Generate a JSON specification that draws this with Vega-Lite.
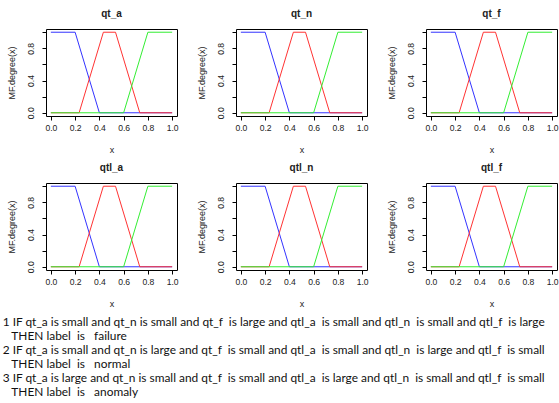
{
  "$schema": "https://vega.github.io/schema/vega-lite/v6.json",
  "background": "white",
  "padding": {"left": 2, "top": 8, "right": 0, "bottom": 0},
  "config": {
    "font": "Liberation Sans",
    "view": {"stroke": "black", "strokeWidth": 1},
    "axis": {
      "domain": false,
      "grid": false,
      "tickColor": "black",
      "tickSize": 4,
      "labelColor": "#222",
      "labelFontSize": 8.6,
      "titleFontSize": 9,
      "titleFontWeight": "normal",
      "titleColor": "#222",
      "labelFont": "Liberation Sans",
      "titleFont": "Liberation Sans"
    },
    "title": {"fontSize": 10, "fontWeight": "bold", "font": "Liberation Sans", "color": "#222", "offset": 10},
    "line": {"strokeWidth": 1}
  },
  "datasets": {
    "mf": [
      {"set": "small", "x": 0, "degree": 1},
      {"set": "small", "x": 0.2, "degree": 1},
      {"set": "small", "x": 0.4, "degree": 0},
      {"set": "small", "x": 1, "degree": 0},
      {"set": "medium", "x": 0, "degree": 0},
      {"set": "medium", "x": 0.233, "degree": 0},
      {"set": "medium", "x": 0.433, "degree": 1},
      {"set": "medium", "x": 0.533, "degree": 1},
      {"set": "medium", "x": 0.733, "degree": 0},
      {"set": "medium", "x": 1, "degree": 0},
      {"set": "large", "x": 0, "degree": 0},
      {"set": "large", "x": 0.6, "degree": 0},
      {"set": "large", "x": 0.8, "degree": 1},
      {"set": "large", "x": 1, "degree": 1}
    ],
    "rules": [
      {"line": 1, "text": "1 IF qt_a is small and qt_n is small and qt_f\u00a0 is large and qtl_a\u00a0 is small and qtl_n\u00a0 is small and qtl_f\u00a0 is large"},
      {"line": 2, "text": "\u200b\u2002\u00a0THEN label\u00a0 is\u00a0\u00a0 failure"},
      {"line": 3, "text": "2 IF qt_a is small and qt_n is large and qt_f\u00a0 is small and qtl_a\u00a0 is small and qtl_n\u00a0 is large and qtl_f\u00a0 is small"},
      {"line": 4, "text": "\u200b\u2002\u00a0THEN label\u00a0 is\u00a0\u00a0 normal"},
      {"line": 5, "text": "3 IF qt_a is large and qt_n is small and qt_f\u00a0 is small and qtl_a\u00a0 is large and qtl_n\u00a0 is small and qtl_f\u00a0 is small"},
      {"line": 6, "text": "\u200b\u2002\u00a0THEN label\u00a0 is\u00a0\u00a0 anomaly"}
    ]
  },
  "spacing": 6,
  "vconcat": [
    {
      "columns": 3,
      "bounds": "flush",
      "spacing": {"row": 67, "column": 59},
      "concat": [
        {"title": "qt_a", "width": 131, "height": 87, "data": {"name": "mf"}, "mark": {"type": "line"},
         "encoding": {
           "x": {"field": "x", "type": "quantitative", "scale": {"domain": [-0.04, 1.04], "nice": false, "zero": false}, "axis": {"values": [0, 0.2, 0.4, 0.6, 0.8, 1], "format": ".1f", "title": "x", "labelPadding": 3, "titlePadding": 14}},
           "y": {"field": "degree", "type": "quantitative", "scale": {"domain": [-0.04, 1.04], "nice": false}, "axis": {"values": [0, 0.2, 0.4, 0.6, 0.8, 1], "labelExpr": "round(datum.value*10)%4==0 ? format(datum.value,'.1f') : ''", "labelAngle": 270, "labelAlign": "center", "labelBaseline": "bottom", "labelPadding": 6.7, "title": "MF.degree(x)", "titlePadding": 9.5}},
           "color": {"field": "set", "type": "nominal", "scale": {"domain": ["small", "medium", "large"], "range": ["#3333ff", "#ff3333", "#33ee33"]}, "legend": null}
         }},
        {"title": "qt_n", "width": 131, "height": 87, "data": {"name": "mf"}, "mark": {"type": "line"},
         "encoding": {
           "x": {"field": "x", "type": "quantitative", "scale": {"domain": [-0.04, 1.04], "nice": false, "zero": false}, "axis": {"values": [0, 0.2, 0.4, 0.6, 0.8, 1], "format": ".1f", "title": "x", "labelPadding": 3, "titlePadding": 14}},
           "y": {"field": "degree", "type": "quantitative", "scale": {"domain": [-0.04, 1.04], "nice": false}, "axis": {"values": [0, 0.2, 0.4, 0.6, 0.8, 1], "labelExpr": "round(datum.value*10)%4==0 ? format(datum.value,'.1f') : ''", "labelAngle": 270, "labelAlign": "center", "labelBaseline": "bottom", "labelPadding": 6.7, "title": "MF.degree(x)", "titlePadding": 9.5}},
           "color": {"field": "set", "type": "nominal", "scale": {"domain": ["small", "medium", "large"], "range": ["#3333ff", "#ff3333", "#33ee33"]}, "legend": null}
         }},
        {"title": "qt_f", "width": 131, "height": 87, "data": {"name": "mf"}, "mark": {"type": "line"},
         "encoding": {
           "x": {"field": "x", "type": "quantitative", "scale": {"domain": [-0.04, 1.04], "nice": false, "zero": false}, "axis": {"values": [0, 0.2, 0.4, 0.6, 0.8, 1], "format": ".1f", "title": "x", "labelPadding": 3, "titlePadding": 14}},
           "y": {"field": "degree", "type": "quantitative", "scale": {"domain": [-0.04, 1.04], "nice": false}, "axis": {"values": [0, 0.2, 0.4, 0.6, 0.8, 1], "labelExpr": "round(datum.value*10)%4==0 ? format(datum.value,'.1f') : ''", "labelAngle": 270, "labelAlign": "center", "labelBaseline": "bottom", "labelPadding": 6.7, "title": "MF.degree(x)", "titlePadding": 9.5}},
           "color": {"field": "set", "type": "nominal", "scale": {"domain": ["small", "medium", "large"], "range": ["#3333ff", "#ff3333", "#33ee33"]}, "legend": null}
         }},
        {"title": "qtl_a", "width": 131, "height": 87, "data": {"name": "mf"}, "mark": {"type": "line"},
         "encoding": {
           "x": {"field": "x", "type": "quantitative", "scale": {"domain": [-0.04, 1.04], "nice": false, "zero": false}, "axis": {"values": [0, 0.2, 0.4, 0.6, 0.8, 1], "format": ".1f", "title": "x", "labelPadding": 3, "titlePadding": 14}},
           "y": {"field": "degree", "type": "quantitative", "scale": {"domain": [-0.04, 1.04], "nice": false}, "axis": {"values": [0, 0.2, 0.4, 0.6, 0.8, 1], "labelExpr": "round(datum.value*10)%4==0 ? format(datum.value,'.1f') : ''", "labelAngle": 270, "labelAlign": "center", "labelBaseline": "bottom", "labelPadding": 6.7, "title": "MF.degree(x)", "titlePadding": 9.5}},
           "color": {"field": "set", "type": "nominal", "scale": {"domain": ["small", "medium", "large"], "range": ["#3333ff", "#ff3333", "#33ee33"]}, "legend": null}
         }},
        {"title": "qtl_n", "width": 131, "height": 87, "data": {"name": "mf"}, "mark": {"type": "line"},
         "encoding": {
           "x": {"field": "x", "type": "quantitative", "scale": {"domain": [-0.04, 1.04], "nice": false, "zero": false}, "axis": {"values": [0, 0.2, 0.4, 0.6, 0.8, 1], "format": ".1f", "title": "x", "labelPadding": 3, "titlePadding": 14}},
           "y": {"field": "degree", "type": "quantitative", "scale": {"domain": [-0.04, 1.04], "nice": false}, "axis": {"values": [0, 0.2, 0.4, 0.6, 0.8, 1], "labelExpr": "round(datum.value*10)%4==0 ? format(datum.value,'.1f') : ''", "labelAngle": 270, "labelAlign": "center", "labelBaseline": "bottom", "labelPadding": 6.7, "title": "MF.degree(x)", "titlePadding": 9.5}},
           "color": {"field": "set", "type": "nominal", "scale": {"domain": ["small", "medium", "large"], "range": ["#3333ff", "#ff3333", "#33ee33"]}, "legend": null}
         }},
        {"title": "qtl_f", "width": 131, "height": 87, "data": {"name": "mf"}, "mark": {"type": "line"},
         "encoding": {
           "x": {"field": "x", "type": "quantitative", "scale": {"domain": [-0.04, 1.04], "nice": false, "zero": false}, "axis": {"values": [0, 0.2, 0.4, 0.6, 0.8, 1], "format": ".1f", "title": "x", "labelPadding": 3, "titlePadding": 14}},
           "y": {"field": "degree", "type": "quantitative", "scale": {"domain": [-0.04, 1.04], "nice": false}, "axis": {"values": [0, 0.2, 0.4, 0.6, 0.8, 1], "labelExpr": "round(datum.value*10)%4==0 ? format(datum.value,'.1f') : ''", "labelAngle": 270, "labelAlign": "center", "labelBaseline": "bottom", "labelPadding": 6.7, "title": "MF.degree(x)", "titlePadding": 9.5}},
           "color": {"field": "set", "type": "nominal", "scale": {"domain": ["small", "medium", "large"], "range": ["#3333ff", "#ff3333", "#33ee33"]}, "legend": null}
         }}
      ]
    },
    {
      "width": 500,
      "height": 84,
      "view": {"stroke": null},
      "data": {"name": "rules"},
      "mark": {"type": "text", "align": "left", "baseline": "alphabetic", "font": "Lato", "fontSize": 11.9, "color": "#111"},
      "encoding": {
        "x": {"datum": 0, "type": "quantitative", "scale": {"domain": [0.0797, 1], "nice": false, "zero": false}, "axis": null},
        "y": {"field": "line", "type": "ordinal", "axis": null, "scale": {"padding": 0.5}},
        "text": {"field": "text"}
      }
    }
  ]
}
